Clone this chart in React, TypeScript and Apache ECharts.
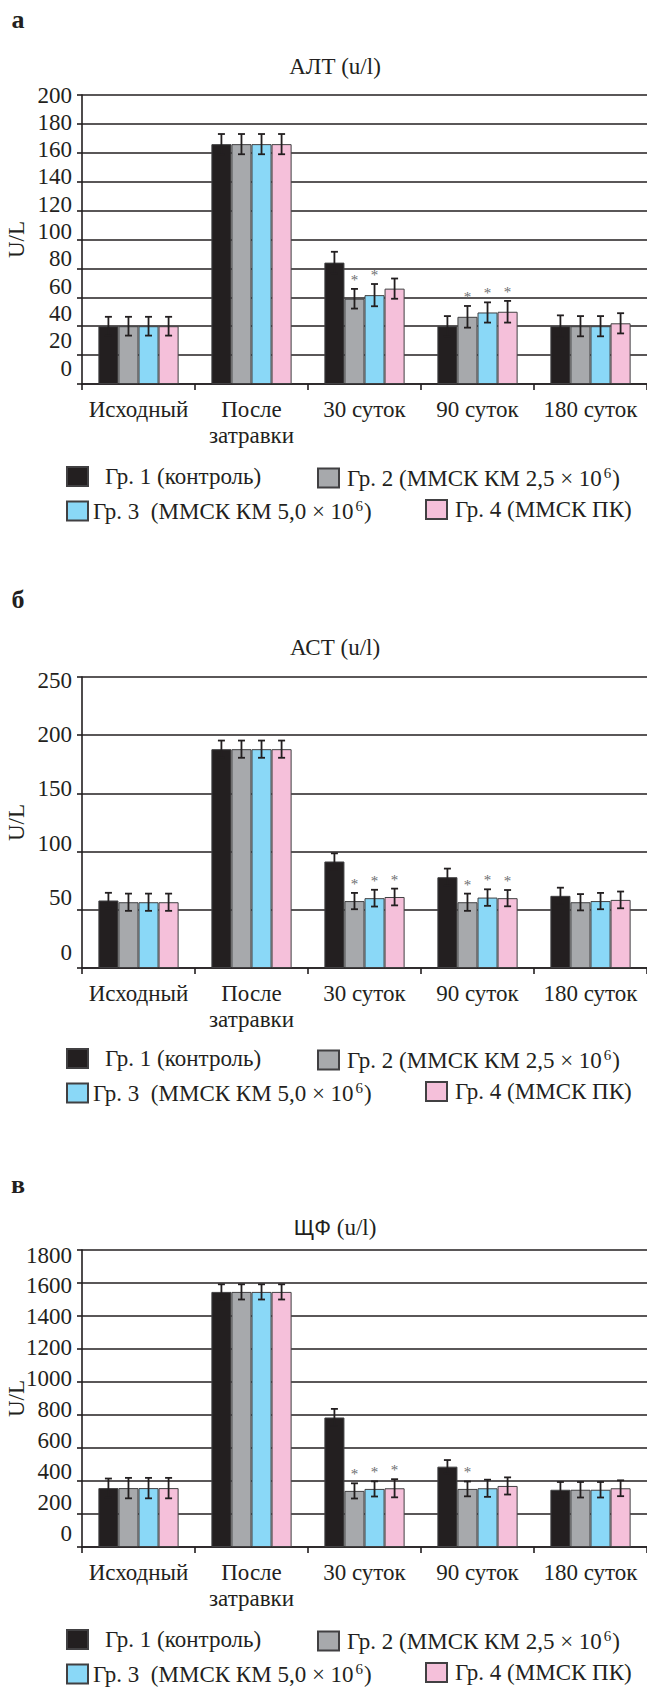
import React, { useEffect, useRef } from 'react';
import * as echarts from 'echarts';

// ---------- data ----------
const categories = ['Исходный', 'После\nзатравки', '30 суток', '90 суток', '180 суток'];
const groupNames = ['Гр. 1 (контроль)', 'Гр. 2 (ММСК КМ 2,5 × 10^6)', 'Гр. 3 (ММСК КМ 5,0 × 10^6)', 'Гр. 4 (ММСК ПК)'];
// legend text pieces: [main, superscript, tail]
const legendParts = [
  ['Гр. 1 (контроль)', '', ''],
  ['Гр. 2 (ММСК КМ 2,5 × 10', '6', ')'],
  ['Гр. 3\u00a0 (ММСК КМ 5,0 × 10', '6', ')'],
  ['Гр. 4 (ММСК ПК)', '', ''],
];
const groupColors = ['#231f20', '#a7a9ac', '#8ad8f7', '#f5c0da'];

// АЛТ (u/l)
const altG1 = [40, 166, 84, 40, 40];
const altG2 = [40, 166, 59, 46.5, 40];
const altG3 = [40, 166, 61.5, 49.5, 40];
const altG4 = [40, 166, 66, 50, 42];
const altErr1 = [6.5, 7, 7.5, 7, 7.5];
const altErr2 = [6.5, 7, 6.8, 7.5, 7];
const altErr3 = [6.5, 7, 7.7, 7, 7];
const altErr4 = [6.5, 7, 7, 7.5, 7];
const altSig1 = [0, 0, 0, 0, 0];
const altSig2 = [0, 0, 1, 1, 0];
const altSig3 = [0, 0, 1, 1, 0];
const altSig4 = [0, 0, 0, 1, 0];
const altTicks = [0, 200, 20];

// АСТ (u/l)
const astG1 = [58, 188, 91.5, 78, 62];
const astG2 = [56.5, 188, 57.5, 56.5, 56.5];
const astG3 = [56.5, 188, 60, 60.5, 57.5];
const astG4 = [56.5, 188, 61, 60, 58.5];
const astErr1 = [6.6, 7.4, 7, 7.4, 7];
const astErr2 = [7.4, 7.4, 7, 7.4, 7];
const astErr3 = [7.4, 7.4, 7.2, 7.1, 7];
const astErr4 = [7.4, 7.4, 7.2, 7, 7.2];
const astSig1 = [0, 0, 0, 0, 0];
const astSig2 = [0, 0, 1, 1, 0];
const astSig3 = [0, 0, 1, 1, 0];
const astSig4 = [0, 0, 1, 1, 0];
const astTicks = [0, 250, 50];

// ЩФ (u/l)
const alpG1 = [357, 1546, 785, 487, 347];
const alpG2 = [357, 1546, 340, 352, 347];
const alpG3 = [357, 1546, 352, 356, 347];
const alpG4 = [357, 1546, 356, 370, 356];
const alpErr1 = [58, 46, 52, 40, 47];
const alpErr2 = [62, 46, 46, 45, 47];
const alpErr3 = [62, 46, 46, 52, 47];
const alpErr4 = [62, 46, 55, 52, 48];
const alpSig1 = [0, 0, 0, 0, 0];
const alpSig2 = [0, 0, 1, 1, 0];
const alpSig3 = [0, 0, 1, 0, 0];
const alpSig4 = [0, 0, 1, 0, 0];
const alpTicks = [0, 1800, 200];

// ---------- layout / style ----------
const FONT = '"Liberation Serif", "Times New Roman", serif';
const SANS = '"Liberation Sans", Arial, sans-serif';
const INK = '#231f20';
const BORDER = '#414042';

const panels = [
  {
    letter: 'а', title: '{r|АЛТ (u/l)}',
    values: [altG1, altG2, altG3, altG4], errors: [altErr1, altErr2, altErr3, altErr4],
    sig: [altSig1, altSig2, altSig3, altSig4], ticks: altTicks,
    gridTop: 95, gridH: 289, labTop: 95, labH: 273, titleY: 66, letterY: 19, legendY: [478, 511],
  },
  {
    letter: 'б', title: '{r|АСТ (u/l)}',
    values: [astG1, astG2, astG3, astG4], errors: [astErr1, astErr2, astErr3, astErr4],
    sig: [astSig1, astSig2, astSig3, astSig4], ticks: astTicks,
    gridTop: 677, gridH: 291, labTop: 680, labH: 272, titleY: 647, letterY: 599, legendY: [1060, 1093],
  },
  {
    letter: 'в', title: '{s|ЩФ} {r|(u/l)}',
    values: [alpG1, alpG2, alpG3, alpG4], errors: [alpErr1, alpErr2, alpErr3, alpErr4],
    sig: [alpSig1, alpSig2, alpSig3, alpSig4], ticks: alpTicks,
    gridTop: 1250, gridH: 297, labTop: 1255, labH: 278, titleY: 1227, letterY: 1184, legendY: [1641, 1674],
  },
];

const GAP = 0.29;

function buildOption() {
  const grid: any[] = [];
  const xAxis: any[] = [];
  const yAxis: any[] = [];
  const series: any[] = [];
  const legend: any[] = [];
  const graphic: any[] = [];

  panels.forEach((p, i) => {
    const main = i * 2;
    const lab = i * 2 + 1;
    grid.push({ left: 82, right: 0, top: p.gridTop, height: p.gridH, containLabel: false, outerBoundsMode: 'none' });
    grid.push({ left: 82, right: 0, top: p.labTop, height: p.labH, containLabel: false, outerBoundsMode: 'none' });

    xAxis.push({
      gridIndex: main, type: 'category', data: categories,
      axisLine: { show: true, lineStyle: { color: INK, width: 1.6 } },
      axisTick: { show: true, length: 6, lineStyle: { color: INK, width: 1.6 } },
      axisLabel: { interval: 0, fontFamily: FONT, fontSize: 23, lineHeight: 26, color: INK, margin: 12 },
    });
    xAxis.push({ gridIndex: lab, type: 'value', show: false, min: 0, max: 1 });

    yAxis.push({
      gridIndex: main, type: 'value', min: p.ticks[0], max: p.ticks[1], interval: p.ticks[2],
      name: 'U/L', nameLocation: 'middle', nameRotate: 90, nameGap: 54,
      nameTextStyle: { fontFamily: FONT, fontSize: 23, color: INK },
      axisLine: { show: true, lineStyle: { color: INK, width: 1.6 } },
      axisTick: { show: true, length: 5, lineStyle: { color: INK, width: 1.6 } },
      axisLabel: { show: false },
      splitLine: { show: true, lineStyle: { color: INK, width: 1.6 } },
    });
    yAxis.push({
      gridIndex: lab, type: 'value', min: p.ticks[0], max: p.ticks[1], interval: p.ticks[2],
      axisLine: { show: false }, axisTick: { show: false }, splitLine: { show: false },
      axisLabel: { fontFamily: FONT, fontSize: 23, color: INK, margin: 10, formatter: (v: number) => String(v) },
    });

    p.values.forEach((vals, g) => {
      series.push({
        type: 'bar', name: groupNames[g], xAxisIndex: main, yAxisIndex: main, data: vals,
        barCategoryGap: GAP * 100 + '%', barGap: '0%',
        itemStyle: { color: groupColors[g], borderColor: BORDER, borderWidth: 1 },
        emphasis: { disabled: true },
      });
      const errData = vals.map((v, k) => [k, v, p.errors[g][k], p.sig[g][k]]);
      series.push({
        type: 'custom', name: 'err' + i + g, xAxisIndex: main, yAxisIndex: main, z: 5, silent: true,
        encode: { x: 0, y: 1 },
        data: errData,
        renderItem: (params: any, api: any) => {
          const x = api.value(0), v = api.value(1), e = api.value(2), s = api.value(3);
          const c = api.coord([x, v]);
          const catW = api.size([1, 0])[0];
          const bw = (catW * (1 - GAP)) / 4;
          const cx = c[0] + (g - 1.5) * bw;
          const top = api.coord([x, v + e])[1];
          const bot = api.coord([x, v - e])[1];
          const st = { stroke: INK, lineWidth: 1.8 };
          const children: any[] = [
            { type: 'line', shape: { x1: cx, y1: top, x2: cx, y2: bot }, style: st },
            { type: 'line', shape: { x1: cx - 3.5, y1: top, x2: cx + 3.5, y2: top }, style: st },
            { type: 'line', shape: { x1: cx - 3.5, y1: bot, x2: cx + 3.5, y2: bot }, style: st },
          ];
          if (s) {
            children.push({
              type: 'text', x: cx, y: top - 9,
              style: { text: '*', fill: '#6d6e71', fontSize: 15, fontFamily: FONT, align: 'center', verticalAlign: 'middle' },
            });
          }
          return { type: 'group', children };
        },
      });
    });

    const pos = [
      [66, p.legendY[0], 12], [317, p.legendY[0], 3],
      [66, p.legendY[1], 0], [425, p.legendY[1], 3],
    ];
    pos.forEach((q, g) => {
      legend.push({
        left: q[0], top: q[1] - 13, padding: 0, itemWidth: 21, itemHeight: 19, icon: 'rect',
        selectedMode: false, data: [groupNames[g]],
        formatter: () => {
          const lp = legendParts[g];
          return lp[1] ? `{t|${lp[0]}}{s|${lp[1]}}{t|${lp[2]}}` : `{t|${lp[0]}}`;
        },
        textStyle: {
          fontFamily: FONT, fontSize: 23, color: INK, padding: [0, 0, 0, q[2]],
          rich: {
            t: { fontFamily: FONT, fontSize: 23, lineHeight: 26, color: INK },
            s: { fontFamily: FONT, fontSize: 15, lineHeight: 15, verticalAlign: 'top', color: INK, padding: [0, 1, 0, 2] },
          },
        },
      });
    });

    graphic.push({
      type: 'text', x: 18, y: p.letterY,
      style: { text: p.letter, fontFamily: FONT, fontSize: 26, fontWeight: 'bold', fill: INK, align: 'center', verticalAlign: 'middle' },
    });
    graphic.push({
      type: 'text', x: 335, y: p.titleY,
      style: {
        text: p.title, align: 'center', verticalAlign: 'middle', fill: INK, fontSize: 23, fontFamily: FONT,
        rich: {
          r: { fontFamily: FONT, fontSize: 23, fill: INK, color: INK },
          s: { fontFamily: SANS, fontSize: 22, fill: INK, color: INK },
        },
      },
    });
  });

  return {
    animation: false,
    backgroundColor: '#ffffff',
    textStyle: { fontFamily: FONT },
    grid, xAxis, yAxis, series, legend, graphic,
  };
}

export default function App() {
  const ref = useRef<HTMLDivElement>(null);
  useEffect(() => {
    if (!ref.current) return;
    const chart = echarts.init(ref.current, null, { renderer: 'svg' });
    chart.setOption(buildOption() as any);
    return () => chart.dispose();
  }, []);
  return (
    <div
      ref={ref}
      style={{ position: 'absolute', left: 0, top: 0, width: 647, height: 1693, background: '#fff' }}
    />
  );
}
